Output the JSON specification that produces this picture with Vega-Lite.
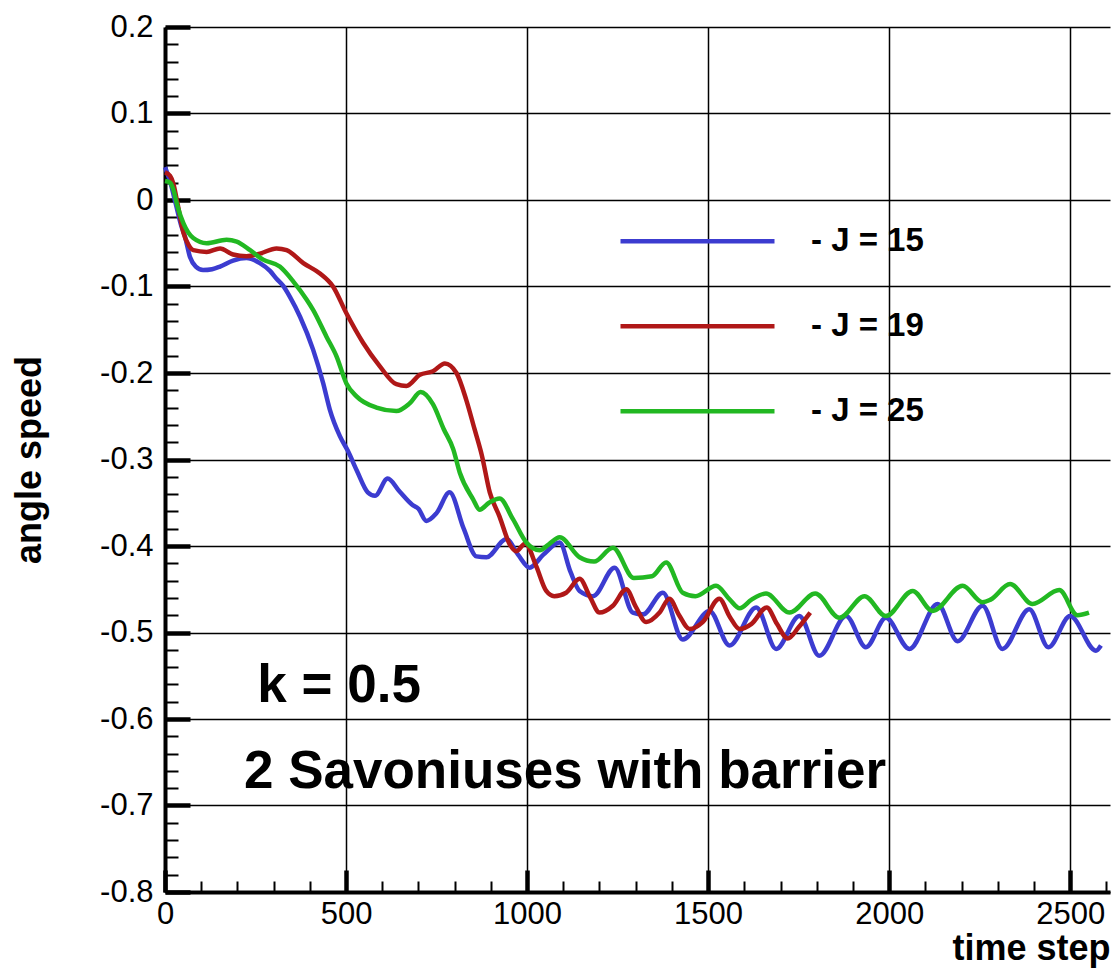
{
  "$schema": "https://vega.github.io/schema/vega-lite/v6.json",
  "autosize": {"type": "none"},
  "width": 945,
  "height": 865,
  "padding": {"left": 165, "top": 27, "right": 4, "bottom": 77},
  "background": "white",
  "config": {"view": {"stroke": null}, "font": "Liberation Sans"},
  "encoding": {
    "x": {
      "field": "x", "type": "quantitative",
      "scale": {"domain": [0, 2610], "nice": false, "zero": false},
      "axis": {
        "title": "time step",
        "values": [0,100,200,300,400,500,600,700,800,900,1000,1100,1200,1300,1400,1500,1600,1700,1800,1900,2000,2100,2200,2300,2400,2500,2600],
        "domainColor": "black", "domainWidth": 4,
        "grid": true, "gridColor": "black", "gridWidth": 1.5,
        "gridOpacity": {"condition": {"test": "datum.value % 500 === 0", "value": 1}, "value": 0},
        "tickColor": "black",
        "tickSize": {"condition": {"test": "datum.value % 500 === 0", "value": -22}, "value": -11},
        "tickWidth": {"condition": {"test": "datum.value % 500 === 0", "value": 4.5}, "value": 2},
        "labelExpr": "datum.value % 500 === 0 ? toString(datum.value) : ''",
        "labelFont": "Liberation Sans", "labelFontSize": 31, "labelColor": "black",
        "labelPadding": 29, "labelFlush": false, "labelOverlap": false,
        "titleFont": "Liberation Sans", "titleFontSize": 36, "titleFontWeight": "bold", "titleColor": "black",
        "titleAnchor": "end", "titlePadding": -9
      }
    },
    "y": {
      "field": "y", "type": "quantitative",
      "scale": {"domain": [-0.8, 0.2], "nice": false, "zero": false},
      "axis": {
        "title": "angle speed",
        "values": [-0.8,-0.78,-0.76,-0.74,-0.72,-0.7,-0.68,-0.66,-0.64,-0.62,-0.6,-0.58,-0.56,-0.54,-0.52,-0.5,-0.48,-0.46,-0.44,-0.42,-0.4,-0.38,-0.36,-0.34,-0.32,-0.3,-0.28,-0.26,-0.24,-0.22,-0.2,-0.18,-0.16,-0.14,-0.12,-0.1,-0.08,-0.06,-0.04,-0.02,0,0.02,0.04,0.06,0.08,0.1,0.12,0.14,0.16,0.18,0.2],
        "domainColor": "black", "domainWidth": 4,
        "grid": true, "gridColor": "black", "gridWidth": 1.5,
        "gridOpacity": {"condition": {"test": "abs(round(datum.value*100)) % 10 === 0", "value": 1}, "value": 0},
        "tickColor": "black",
        "tickSize": {"condition": {"test": "abs(round(datum.value*100)) % 10 === 0", "value": -25}, "value": -13},
        "tickWidth": {"condition": {"test": "abs(round(datum.value*100)) % 10 === 0", "value": 4.5}, "value": 2},
        "labelExpr": "abs(round(datum.value*100)) % 10 === 0 ? toString(round(datum.value*10)/10) : ''",
        "labelFont": "Liberation Sans", "labelFontSize": 31, "labelColor": "black",
        "labelPadding": 37, "labelFlush": false, "labelOverlap": false,
        "titleFont": "Liberation Sans", "titleFontSize": 36, "titleFontWeight": "bold", "titleColor": "black",
        "titlePadding": 51
      }
    }
  },
  "layer": [
    {
      "data": {"values": [
        {"s":"J = 15","x":0,"y":0.038},{"s":"J = 15","x":15,"y":0.02},{"s":"J = 15","x":30,"y":-0.005},{"s":"J = 15","x":45,"y":-0.03},{"s":"J = 15","x":55,"y":-0.042},{"s":"J = 15","x":69,"y":-0.066},{"s":"J = 15","x":85,"y":-0.077},{"s":"J = 15","x":105,"y":-0.081},{"s":"J = 15","x":130,"y":-0.08},{"s":"J = 15","x":152,"y":-0.077},{"s":"J = 15","x":188,"y":-0.07},{"s":"J = 15","x":225,"y":-0.067},{"s":"J = 15","x":262,"y":-0.073},{"s":"J = 15","x":290,"y":-0.082},{"s":"J = 15","x":308,"y":-0.091},{"s":"J = 15","x":326,"y":-0.099},{"s":"J = 15","x":345,"y":-0.112},{"s":"J = 15","x":373,"y":-0.135},{"s":"J = 15","x":409,"y":-0.173},{"s":"J = 15","x":437,"y":-0.212},{"s":"J = 15","x":455,"y":-0.242},{"s":"J = 15","x":483,"y":-0.273},{"s":"J = 15","x":505,"y":-0.29},{"s":"J = 15","x":530,"y":-0.313},{"s":"J = 15","x":560,"y":-0.338},{"s":"J = 15","x":580,"y":-0.342},{"s":"J = 15","x":615,"y":-0.322},{"s":"J = 15","x":648,"y":-0.337},{"s":"J = 15","x":682,"y":-0.352},{"s":"J = 15","x":700,"y":-0.357},{"s":"J = 15","x":722,"y":-0.371},{"s":"J = 15","x":750,"y":-0.362},{"s":"J = 15","x":786,"y":-0.338},{"s":"J = 15","x":825,"y":-0.38},{"s":"J = 15","x":860,"y":-0.412},{"s":"J = 15","x":888,"y":-0.413},{"s":"J = 15","x":943,"y":-0.392},{"s":"J = 15","x":975,"y":-0.41},{"s":"J = 15","x":1007,"y":-0.425},{"s":"J = 15","x":1045,"y":-0.41},{"s":"J = 15","x":1090,"y":-0.396},{"s":"J = 15","x":1120,"y":-0.43},{"s":"J = 15","x":1145,"y":-0.452},{"s":"J = 15","x":1182,"y":-0.458},{"s":"J = 15","x":1242,"y":-0.425},{"s":"J = 15","x":1292,"y":-0.477},{"s":"J = 15","x":1320,"y":-0.479},{"s":"J = 15","x":1375,"y":-0.454},{"s":"J = 15","x":1430,"y":-0.508},{"s":"J = 15","x":1504,"y":-0.475},{"s":"J = 15","x":1559,"y":-0.515},{"s":"J = 15","x":1633,"y":-0.471},{"s":"J = 15","x":1688,"y":-0.519},{"s":"J = 15","x":1752,"y":-0.481},{"s":"J = 15","x":1807,"y":-0.527},{"s":"J = 15","x":1881,"y":-0.481},{"s":"J = 15","x":1936,"y":-0.517},{"s":"J = 15","x":1991,"y":-0.483},{"s":"J = 15","x":2056,"y":-0.519},{"s":"J = 15","x":2134,"y":-0.467},{"s":"J = 15","x":2189,"y":-0.51},{"s":"J = 15","x":2258,"y":-0.469},{"s":"J = 15","x":2313,"y":-0.519},{"s":"J = 15","x":2387,"y":-0.473},{"s":"J = 15","x":2440,"y":-0.517},{"s":"J = 15","x":2500,"y":-0.481},{"s":"J = 15","x":2571,"y":-0.521},{"s":"J = 15","x":2585,"y":-0.515},
        {"s":"J = 19","x":0,"y":0.032},{"s":"J = 19","x":14,"y":0.028},{"s":"J = 19","x":23,"y":0.019},{"s":"J = 19","x":35,"y":-0.005},{"s":"J = 19","x":51,"y":-0.038},{"s":"J = 19","x":65,"y":-0.052},{"s":"J = 19","x":78,"y":-0.058},{"s":"J = 19","x":115,"y":-0.06},{"s":"J = 19","x":152,"y":-0.056},{"s":"J = 19","x":188,"y":-0.063},{"s":"J = 19","x":225,"y":-0.065},{"s":"J = 19","x":262,"y":-0.062},{"s":"J = 19","x":308,"y":-0.056},{"s":"J = 19","x":336,"y":-0.058},{"s":"J = 19","x":382,"y":-0.073},{"s":"J = 19","x":428,"y":-0.085},{"s":"J = 19","x":464,"y":-0.1},{"s":"J = 19","x":501,"y":-0.131},{"s":"J = 19","x":547,"y":-0.165},{"s":"J = 19","x":593,"y":-0.192},{"s":"J = 19","x":639,"y":-0.213},{"s":"J = 19","x":667,"y":-0.215},{"s":"J = 19","x":704,"y":-0.202},{"s":"J = 19","x":740,"y":-0.198},{"s":"J = 19","x":773,"y":-0.189},{"s":"J = 19","x":805,"y":-0.2},{"s":"J = 19","x":832,"y":-0.231},{"s":"J = 19","x":855,"y":-0.265},{"s":"J = 19","x":875,"y":-0.295},{"s":"J = 19","x":897,"y":-0.338},{"s":"J = 19","x":924,"y":-0.366},{"s":"J = 19","x":952,"y":-0.398},{"s":"J = 19","x":970,"y":-0.406},{"s":"J = 19","x":995,"y":-0.397},{"s":"J = 19","x":1025,"y":-0.423},{"s":"J = 19","x":1053,"y":-0.452},{"s":"J = 19","x":1075,"y":-0.458},{"s":"J = 19","x":1108,"y":-0.454},{"s":"J = 19","x":1145,"y":-0.438},{"s":"J = 19","x":1175,"y":-0.46},{"s":"J = 19","x":1200,"y":-0.477},{"s":"J = 19","x":1237,"y":-0.469},{"s":"J = 19","x":1274,"y":-0.45},{"s":"J = 19","x":1300,"y":-0.47},{"s":"J = 19","x":1329,"y":-0.488},{"s":"J = 19","x":1366,"y":-0.477},{"s":"J = 19","x":1393,"y":-0.461},{"s":"J = 19","x":1420,"y":-0.48},{"s":"J = 19","x":1449,"y":-0.496},{"s":"J = 19","x":1485,"y":-0.488},{"s":"J = 19","x":1531,"y":-0.461},{"s":"J = 19","x":1560,"y":-0.482},{"s":"J = 19","x":1587,"y":-0.496},{"s":"J = 19","x":1620,"y":-0.49},{"s":"J = 19","x":1662,"y":-0.471},{"s":"J = 19","x":1690,"y":-0.49},{"s":"J = 19","x":1720,"y":-0.507},{"s":"J = 19","x":1750,"y":-0.494},{"s":"J = 19","x":1782,"y":-0.477},
        {"s":"J = 25","x":0,"y":0.022},{"s":"J = 25","x":14,"y":0.02},{"s":"J = 25","x":23,"y":0.012},{"s":"J = 25","x":35,"y":-0.008},{"s":"J = 25","x":51,"y":-0.027},{"s":"J = 25","x":78,"y":-0.044},{"s":"J = 25","x":115,"y":-0.05},{"s":"J = 25","x":170,"y":-0.046},{"s":"J = 25","x":198,"y":-0.048},{"s":"J = 25","x":235,"y":-0.058},{"s":"J = 25","x":271,"y":-0.069},{"s":"J = 25","x":317,"y":-0.077},{"s":"J = 25","x":354,"y":-0.094},{"s":"J = 25","x":391,"y":-0.115},{"s":"J = 25","x":409,"y":-0.127},{"s":"J = 25","x":446,"y":-0.158},{"s":"J = 25","x":474,"y":-0.181},{"s":"J = 25","x":501,"y":-0.212},{"s":"J = 25","x":529,"y":-0.227},{"s":"J = 25","x":584,"y":-0.24},{"s":"J = 25","x":639,"y":-0.244},{"s":"J = 25","x":676,"y":-0.235},{"s":"J = 25","x":706,"y":-0.222},{"s":"J = 25","x":740,"y":-0.236},{"s":"J = 25","x":770,"y":-0.265},{"s":"J = 25","x":796,"y":-0.288},{"s":"J = 25","x":814,"y":-0.315},{"s":"J = 25","x":851,"y":-0.346},{"s":"J = 25","x":869,"y":-0.358},{"s":"J = 25","x":895,"y":-0.35},{"s":"J = 25","x":924,"y":-0.345},{"s":"J = 25","x":961,"y":-0.369},{"s":"J = 25","x":998,"y":-0.396},{"s":"J = 25","x":1035,"y":-0.405},{"s":"J = 25","x":1060,"y":-0.398},{"s":"J = 25","x":1090,"y":-0.39},{"s":"J = 25","x":1145,"y":-0.413},{"s":"J = 25","x":1185,"y":-0.418},{"s":"J = 25","x":1237,"y":-0.402},{"s":"J = 25","x":1295,"y":-0.437},{"s":"J = 25","x":1345,"y":-0.435},{"s":"J = 25","x":1384,"y":-0.419},{"s":"J = 25","x":1430,"y":-0.454},{"s":"J = 25","x":1465,"y":-0.458},{"s":"J = 25","x":1522,"y":-0.446},{"s":"J = 25","x":1560,"y":-0.462},{"s":"J = 25","x":1587,"y":-0.472},{"s":"J = 25","x":1620,"y":-0.462},{"s":"J = 25","x":1660,"y":-0.455},{"s":"J = 25","x":1725,"y":-0.477},{"s":"J = 25","x":1796,"y":-0.455},{"s":"J = 25","x":1863,"y":-0.483},{"s":"J = 25","x":1932,"y":-0.458},{"s":"J = 25","x":1991,"y":-0.481},{"s":"J = 25","x":2065,"y":-0.452},{"s":"J = 25","x":2120,"y":-0.475},{"s":"J = 25","x":2203,"y":-0.446},{"s":"J = 25","x":2258,"y":-0.465},{"s":"J = 25","x":2280,"y":-0.462},{"s":"J = 25","x":2334,"y":-0.444},{"s":"J = 25","x":2396,"y":-0.467},{"s":"J = 25","x":2470,"y":-0.451},{"s":"J = 25","x":2520,"y":-0.48},{"s":"J = 25","x":2552,"y":-0.477}
      ]},
      "mark": {"type": "line", "strokeWidth": 4.5, "interpolate": "monotone"},
      "encoding": {
        "color": {
          "field": "s", "type": "nominal",
          "scale": {"domain": ["J = 15", "J = 19", "J = 25"], "range": ["#3c3cd0", "#b01818", "#22b822"]},
          "legend": {
            "title": null, "orient": "none", "legendX": 453, "legendY": 173, "direction": "vertical",
            "symbolType": "stroke", "symbolSize": 23716, "symbolStrokeWidth": 4.5,
            "clipHeight": 82.5, "rowPadding": 2, "padding": 0,
            "labelFont": "Liberation Sans", "labelFontSize": 33, "labelFontWeight": "bold", "labelColor": "black",
            "labelOffset": 34, "labelLimit": 400, "labelExpr": "'-  ' + datum.label"
          }
        }
      }
    },
    {
      "data": {"values": [
        {"t": "k = 0.5", "x": 255, "y": -0.58},
        {"t": "2 Savoniuses with barrier", "x": 218, "y": -0.68}
      ]},
      "mark": {"type": "text", "align": "left", "baseline": "alphabetic", "font": "Liberation Sans", "fontSize": 53, "fontWeight": "bold", "color": "black"},
      "encoding": {"text": {"field": "t", "type": "nominal"}}
    }
  ]
}
